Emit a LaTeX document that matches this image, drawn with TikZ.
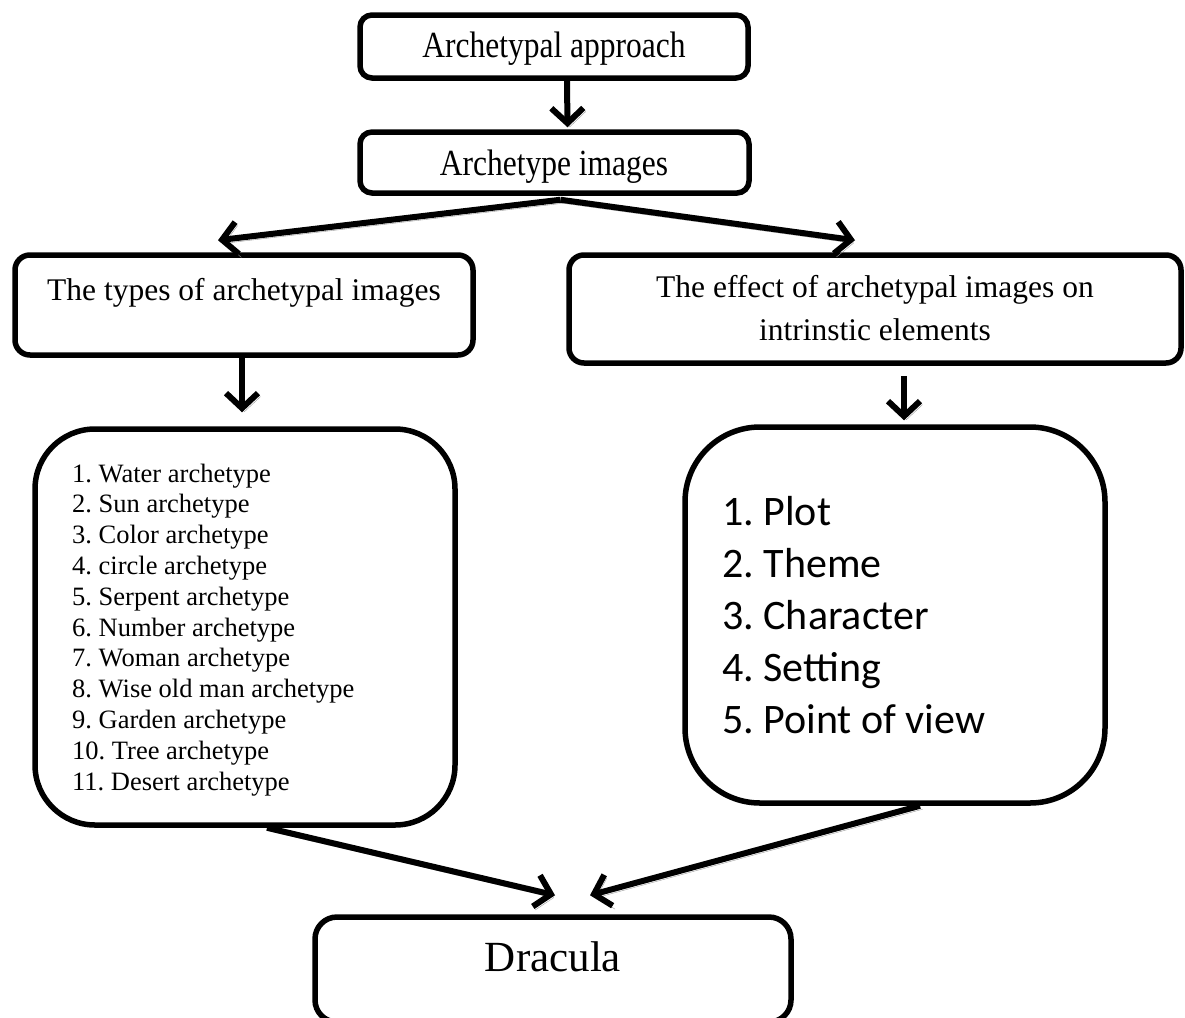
\documentclass[tikz,border=0pt]{standalone}
\usepackage{fontspec}
\setmainfont{Liberation Serif}
\newfontfamily\carlito{Carlito}
\usetikzlibrary{arrows.meta,calc}
\frenchspacing
\newcommand{\tallt}[1]{\scalebox{1}[1.17]{#1}}
\begin{document}
\begin{tikzpicture}[x=1pt,y=-1pt,
  box/.style={draw, line width=5.5pt, rectangle, inner sep=0pt},
  conn/.style={line width=6pt, -{Straight Barb[length=15pt,width=32pt]},
    preaction={draw=black!40, transform canvas={shift={(2.5pt,-3.5pt)}}}},
  lbl/.style={anchor=base, inner sep=0pt, font=\fontsize{31.5pt}{43pt}\selectfont},
]
\useasboundingbox (0,0) rectangle (1185,1017);
% boxes
\node[box, rounded corners=12pt, minimum width=388pt, minimum height=63pt] (approach) at (554,46.5) {};
\node[box, rounded corners=12pt, minimum width=389pt, minimum height=61pt] (images) at (554.5,162.5) {};
\node[box, rounded corners=15pt, minimum width=458pt, minimum height=100pt] (types) at (244,305) {};
\node[box, rounded corners=15pt, minimum width=612pt, minimum height=108pt] (effect) at (875,309) {};
\node[box, rounded corners=60pt, minimum width=420pt, minimum height=396pt] (leftlist) at (245,627) {};
\node[box, rounded corners=75pt, minimum width=420pt, minimum height=376pt] (rightlist) at (895,615) {};
\node[box, rounded corners=22pt, minimum width=476pt, minimum height=105pt] (dracula) at (553,969.5) {};
% texts
\node[lbl] (tapproach) at (554,57) {\tallt{Archetypal approach}};
\node[lbl] (timages) at (554,175) {\tallt{Archetype images}};
\node[lbl] (ttypes) at (244,300) {The types of archetypal images};
\node[lbl] (teffect) at (875,297) {\begin{tabular}[t]{@{}c@{}}The effect of archetypal images on\\ intrinstic elements\end{tabular}};
\node[anchor=base west, inner sep=0pt, font=\fontsize{26.5pt}{30.8pt}\selectfont] (tleft) at (72,482)
  {\begin{tabular}[t]{@{}l@{}}1. Water archetype\\ 2. Sun archetype\\ 3. Color archetype\\ 4. circle archetype\\ 5. Serpent archetype\\ 6. Number archetype\\ 7. Woman archetype\\ 8. Wise old man archetype\\ 9. Garden archetype\\ 10. Tree archetype\\ 11. Desert archetype\end{tabular}};
\node[anchor=base west, inner sep=0pt, font=\carlito\fontsize{42pt}{52pt}\selectfont] (tright) at (722,525)
  {\begin{tabular}[t]{@{}l@{}}1. Plot\\ 2. Theme\\ 3. Character\\ 4. Setting\\ 5. Point of view\end{tabular}};
\node[anchor=base, inner sep=0pt, font=\fontsize{43pt}{50pt}\selectfont] (tdracula) at (553,971) {Dracula};
% connectors
\draw[conn] ([xshift=13pt]approach.south) -- ([xshift=13pt,yshift=2pt]images.north);
\draw[conn] ([xshift=6pt,yshift=-4pt]images.south) -- ([xshift=-26pt,yshift=12pt]types.north);
\draw[conn] ([xshift=6pt,yshift=-4pt]images.south) -- ([xshift=-20pt,yshift=12pt]effect.north);
\draw[conn] ([xshift=-2pt]types.south) -- ([xshift=-3pt,yshift=14pt]leftlist.north);
\draw[conn] ([xshift=29pt,yshift=-10pt]effect.south) -- ([xshift=9pt,yshift=4pt]rightlist.north);
\draw[conn] ([xshift=22pt]leftlist.south) -- ([xshift=2pt,yshift=19pt]dracula.north);
\draw[conn] ([xshift=25pt]rightlist.south) -- ([xshift=37pt,yshift=19pt]dracula.north);
\end{tikzpicture}
\end{document}
